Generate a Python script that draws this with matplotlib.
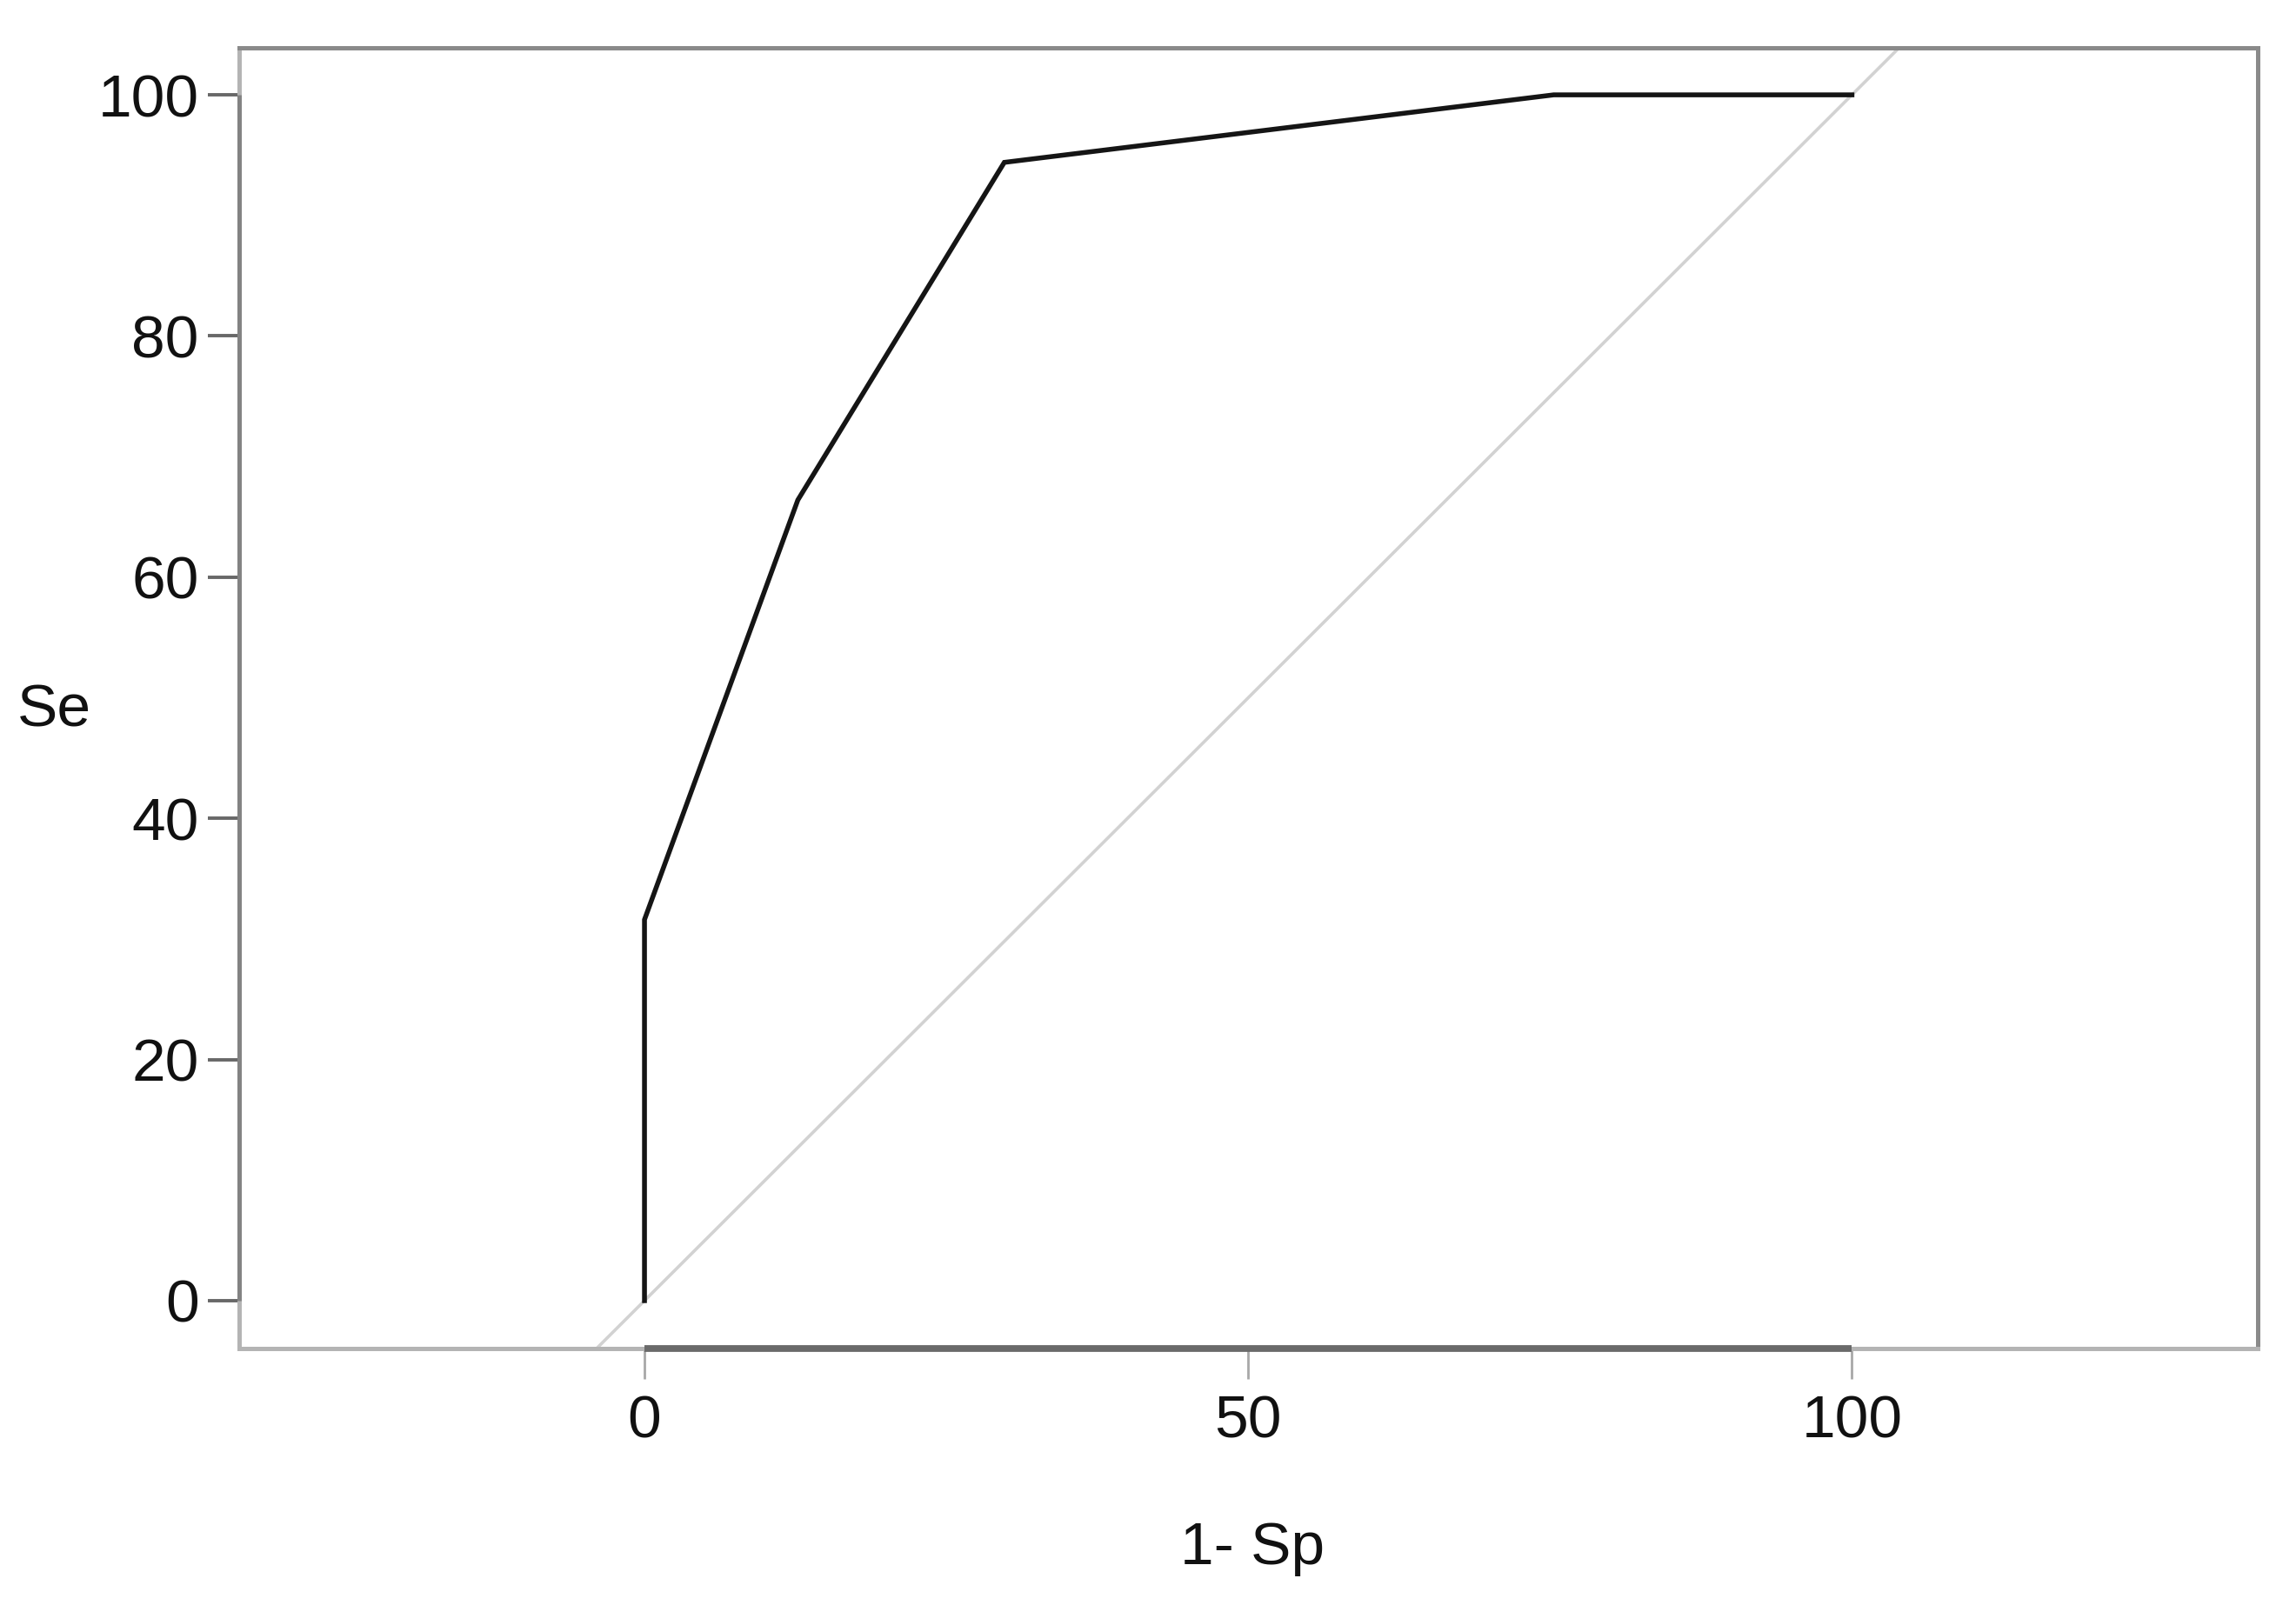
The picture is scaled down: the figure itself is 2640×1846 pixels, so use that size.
import matplotlib

matplotlib.use("Agg")
import matplotlib.pyplot as plt

plt.rcParams["font.family"] = ["Liberation Sans", "DejaVu Sans"]

# ROC curve (1 - specificity, sensitivity), in %
fpr = [0.0, 0.0, 12.7, 29.8, 75.3, 100.0]
tpr = [0.0, 31.6, 66.4, 94.4, 100.0, 100.0]

xticks = [0, 50, 100]
yticks = [0, 20, 40, 60, 80, 100]
xlim = (-33.6, 133.6)
ylim = (-3.97, 103.9)

fig = plt.figure(figsize=(13.2, 9.23), dpi=200)
ax = fig.add_axes([0.104, 0.1598, 0.8793, 0.8104])
ax.set_xlim(*xlim)
ax.set_ylim(*ylim)

# chance diagonal, running edge to edge
ax.axline((0, 0), slope=1, color="#d2d2d2", lw=1.3, zorder=1)
ax.plot(fpr, tpr, color="#151515", lw=2.0, solid_joinstyle="miter", zorder=3)

# box: light on left/bottom, axis lines overlaid between first and last tick
for side in ("top", "right"):
    ax.spines[side].set_color("#8a8a8a")
    ax.spines[side].set_linewidth(1.8)
for side in ("left", "bottom"):
    ax.spines[side].set_color("#b4b4b4")
    ax.spines[side].set_linewidth(1.8)
ax.plot([0, 0], [yticks[0], yticks[-1]], transform=ax.get_yaxis_transform(),
        color="#838383", lw=1.8, clip_on=False, solid_capstyle="butt", zorder=4)
ax.plot([xticks[0], xticks[-1]], [0, 0], transform=ax.get_xaxis_transform(),
        color="#6a6a6a", lw=2.8, clip_on=False, solid_capstyle="butt", zorder=4)

ax.set_xticks(xticks)
ax.set_yticks(yticks)
ax.tick_params(axis="y", direction="out", length=13, width=1.4, color="#686868",
               labelsize=25, labelcolor="#111111", pad=3.5)
ax.tick_params(axis="x", direction="out", length=12.5, width=1.0, color="#a8a8a8",
               labelsize=25, labelcolor="#111111", pad=6.5)

ax.set_ylabel("Se", rotation=0, fontsize=25, color="#111111", ha="center", va="center")
ax.yaxis.set_label_coords(-0.0915, 0.4906)
ax.set_xlabel("1- Sp", fontsize=25, color="#111111", ha="center", va="center")
ax.xaxis.set_label_coords(0.502, -0.154)

fig.savefig("out.png", dpi=200, facecolor="white")
